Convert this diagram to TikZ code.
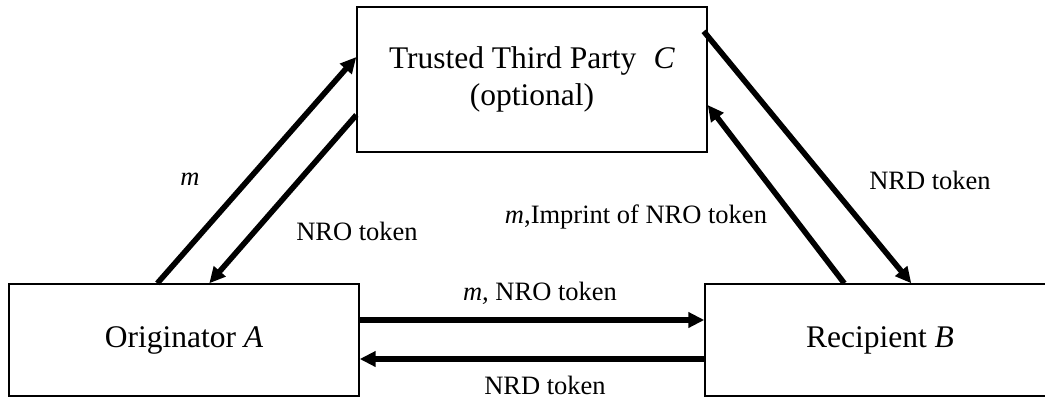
\documentclass[tikz,border=0pt]{standalone}
\usepackage{fontspec}
\setmainfont{Liberation Serif}
\usepackage{tikz}
\usetikzlibrary{positioning, calc, arrows.meta}
\tikzset{
	partybox/.style={draw, line width=0.7pt, minimum width=175pt, minimum height=56pt,
		inner sep=0pt, align=center, font=\fontsize{15.75}{18.5}\selectfont}
}
\tikzset{
	msglabel/.style={font=\fontsize{13.25}{15}\selectfont, anchor=base, inner sep=0pt}
}
\tikzset{
	msgarrow/.style={line width=2.8pt, -{Triangle[length=8pt,width=7.5pt]}}
}

\begin{document}
\begin{tikzpicture}[x=0.5pt, y=-0.5pt]
      \useasboundingbox (0,0) rectangle (1045,398);
      % parties
      \node[partybox, minimum height=72.5pt] (ttp) at (532,79.5)
        {Trusted Third Party\hspace{0.55em}\textit{C}\\(optional)};
      \node[partybox] (orig) at (184,340) {Originator \textit{A}};
      \node[partybox] (recip) at (880,340) {Recipient \textit{B}};
      % originator <-> ttp
      \draw[msgarrow] ($(orig.north west)+(149,0)$) -- ($(ttp.west)+(0,-22.5)$);
      \draw[msgarrow] ($(ttp.west)+(0,35.5)$) -- ($(orig.north west)+(201,0)$);
      \node[msglabel] (lm) at (190,185) {\textit{m}};
      \node[msglabel] (lnro) at (357,240) {NRO token};
      % recipient <-> ttp
      \draw[msgarrow] ($(recip.north west)+(140,0)$) -- ($(ttp.east)+(0,25.5)$);
      \draw[msgarrow] ($(ttp.north east)+(-4,25)$) -- ($(recip.north west)+(207,0)$);
      \node[msglabel] (limp) at (636,223) {\textit{m},Imprint of NRO token};
      \node[msglabel] (lnrd) at (930,189) {NRD token};
      % originator <-> recipient
      \draw[msgarrow] ($(orig.east)+(0,-20)$) -- ($(recip.west)+(0,-20)$);
      \draw[msgarrow] ($(recip.west)+(0,19)$) -- ($(orig.east)+(0,19)$);
      \node[msglabel] (lmsg) at (540,300) {\textit{m,} NRO token};
      \node[msglabel] (lrcpt) at (545,394) {NRD token};
    \end{tikzpicture}
\end{document}
